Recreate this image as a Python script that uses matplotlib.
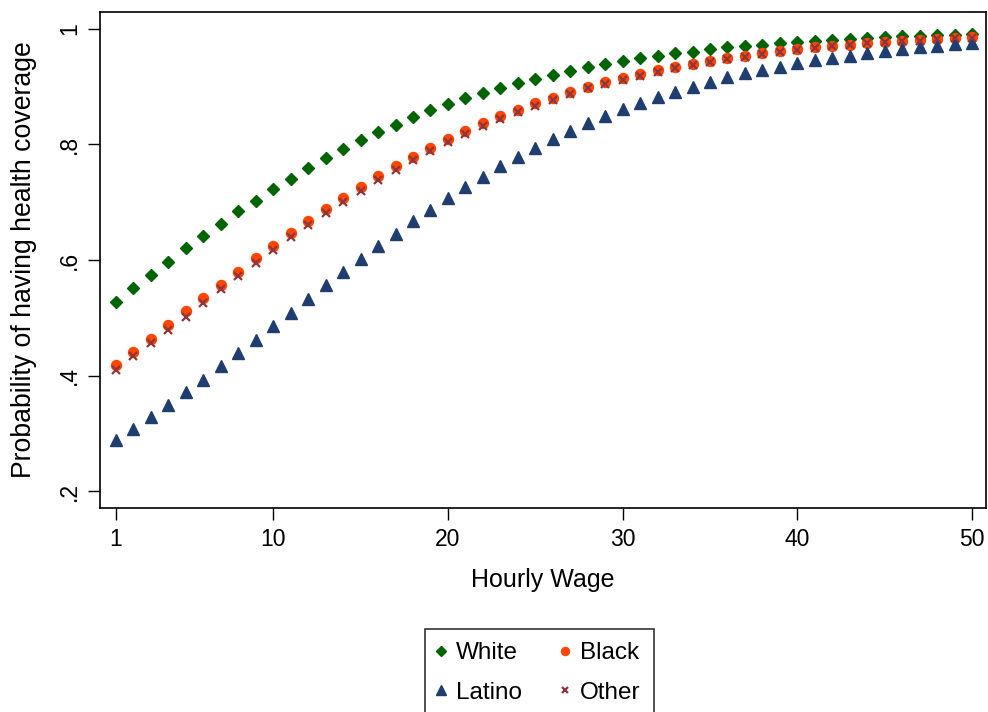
import matplotlib
matplotlib.use("Agg")
import matplotlib.pyplot as plt

plt.rcParams['font.family'] = ['Liberation Sans', 'DejaVu Sans']

# hourly wage 1..50, predicted probabilities
wage = list(range(1, 51))

white = [0.528, 0.551, 0.574, 0.597, 0.620, 0.642, 0.663, 0.684, 0.703, 0.723,
         0.741, 0.759, 0.776, 0.792, 0.807, 0.821, 0.834, 0.847, 0.859, 0.870,
         0.880, 0.890, 0.898, 0.907, 0.914, 0.921, 0.928, 0.934, 0.940, 0.945,
         0.949, 0.954, 0.958, 0.961, 0.965, 0.968, 0.971, 0.973, 0.975, 0.978,
         0.980, 0.981, 0.983, 0.984, 0.986, 0.987, 0.988, 0.989, 0.990, 0.991]

black = [0.418, 0.441, 0.464, 0.487, 0.511, 0.534, 0.557, 0.580, 0.603, 0.625,
         0.647, 0.668, 0.688, 0.708, 0.727, 0.745, 0.762, 0.779, 0.794, 0.809,
         0.823, 0.837, 0.849, 0.860, 0.871, 0.881, 0.891, 0.900, 0.908, 0.915,
         0.922, 0.929, 0.935, 0.940, 0.945, 0.950, 0.954, 0.958, 0.962, 0.965,
         0.968, 0.971, 0.973, 0.976, 0.978, 0.980, 0.981, 0.983, 0.985, 0.986]

latino = [0.288, 0.308, 0.328, 0.349, 0.371, 0.393, 0.416, 0.439, 0.462, 0.485,
          0.509, 0.532, 0.556, 0.579, 0.601, 0.624, 0.645, 0.667, 0.687, 0.707,
          0.726, 0.744, 0.762, 0.778, 0.794, 0.809, 0.823, 0.837, 0.849, 0.861,
          0.872, 0.882, 0.891, 0.900, 0.908, 0.916, 0.923, 0.929, 0.935, 0.941,
          0.946, 0.950, 0.954, 0.958, 0.962, 0.965, 0.968, 0.971, 0.974, 0.976]

other = [0.410, 0.433, 0.456, 0.479, 0.502, 0.526, 0.549, 0.572, 0.595, 0.617,
         0.639, 0.661, 0.681, 0.701, 0.720, 0.739, 0.756, 0.773, 0.788, 0.804,
         0.818, 0.832, 0.845, 0.856, 0.867, 0.877, 0.887, 0.897, 0.905, 0.912,
         0.919, 0.926, 0.933, 0.938, 0.943, 0.948, 0.952, 0.956, 0.961, 0.964,
         0.967, 0.970, 0.972, 0.975, 0.977, 0.979, 0.980, 0.982, 0.984, 0.985]

xticks = [1, 10, 20, 30, 40, 50]
yticks = [0.2, 0.4, 0.6, 0.8, 1.0]
ytick_labels = ['.2', '.4', '.6', '.8', '1']

fig = plt.figure(figsize=(9.88, 7.12), dpi=100)
ax = fig.add_axes([100 / 988, 1 - 508 / 712, 886 / 988, 496 / 712])

h_white, = ax.plot(wage, white, ls='none', marker='D', ms=6.5, color='#006400',
                   mec='#006400', label='White')
h_black, = ax.plot(wage, black, ls='none', marker='o', ms=7.2, color='#FF4500',
                   mec='#FF4500', label='Black')
h_latino, = ax.plot(wage, latino, ls='none', marker='^', ms=8.5, color='#1F3D6E',
                    mec='#1F3D6E', label='Latino')
h_other, = ax.plot(wage, other, ls='none', marker='x', ms=5.5, mew=1.6,
                   color='#90353B', label='Other')

ax.set_xlim(0.084, 50.8)
ax.set_ylim(0.1706, 1.0294)
ax.set_xticks(xticks)
ax.set_yticks(yticks)
ax.set_yticklabels(ytick_labels, rotation=90, va='center')
ax.tick_params(direction='out', length=8.6, width=1.0, labelsize=16.5, pad=5)
ax.tick_params(axis='x', pad=6)
for s in ax.spines.values():
    s.set_linewidth(1.2)

ax.set_xlabel('Hourly Wage', fontsize=18, labelpad=12)
ax.set_ylabel('Probability of having health coverage', fontsize=19.2, labelpad=15)

leg = fig.legend([h_white, h_latino, h_black, h_other],
                 ['White', 'Latino', 'Black', 'Other'],
                 ncol=2, loc='upper left', bbox_to_anchor=(425 / 988, 1 - 629 / 712),
                 borderaxespad=0, fontsize=17.5, frameon=True, fancybox=False,
                 edgecolor='black', handlelength=0.2, handletextpad=0.53,
                 columnspacing=1.66, labelspacing=0.72, borderpad=0.55,
                 markerscale=0.8)
leg.get_frame().set_linewidth(1.2)

fig.savefig('out.png', dpi=100)
